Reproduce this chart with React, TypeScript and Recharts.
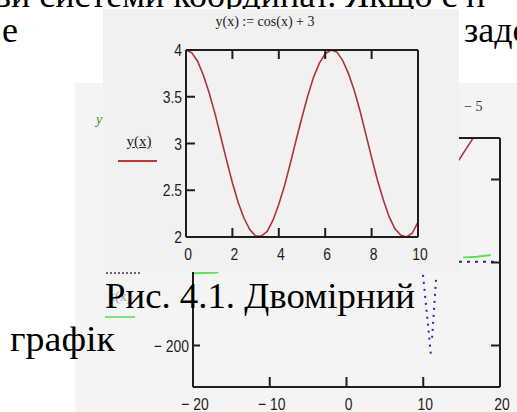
import React from 'react';
import { LineChart, Line, XAxis, YAxis } from 'recharts';

// ---- main chart: y(x) := cos(x) + 3 ----
const xValues = [0, 0.25, 0.5, 0.75, 1, 1.25, 1.5, 1.75, 2, 2.25, 2.5, 2.75, 3, 3.25, 3.5, 3.75, 4, 4.25, 4.5, 4.75, 5, 5.25, 5.5, 5.75, 6, 6.25, 6.5, 6.75, 7, 7.25, 7.5, 7.75, 8, 8.25, 8.5, 8.75, 9, 9.25, 9.5, 9.75, 10];
const yValues = [4.0, 3.97, 3.88, 3.73, 3.54, 3.32, 3.07, 2.82, 2.58, 2.37, 2.2, 2.08, 2.01, 2.01, 2.06, 2.18, 2.35, 2.55, 2.79, 3.04, 3.28, 3.51, 3.71, 3.86, 3.96, 4.0, 3.98, 3.89, 3.75, 3.57, 3.35, 3.1, 2.85, 2.61, 2.4, 2.22, 2.09, 2.02, 2.0, 2.04, 2.16];
const xTicks = [0, 2, 4, 6, 8, 10];
const yTicks = [2, 2.5, 3, 3.5, 4];
const mainTitle = 'y(x) := cos(x) + 3';
const legendLabel = 'y(x)';

// ---- background (partly hidden) chart ----
const bgXTicks = [-20, -10, 0, 10, 20];
const bgYTicks = [-200, -100, 0];
const bgTitleTail = '\u2212 5';
const bgLegendLabel = 'k(x)';
const bgRed = [{ x: 13, y: 0 }, { x: 16.5, y: 50 }];
const bgGreenA = [{ x: -20, y: -113 }, { x: -16.7, y: -112 }];
const bgGreenB = [{ x: 15.2, y: -94 }, { x: 17, y: -93 }, { x: 18.8, y: -91 }];
const bgBlueA = [{ x: 14.66, y: -99 }, { x: 20, y: -99 }];
const bgBlueB = [{ x: 9.97, y: -115 }, { x: 11.0, y: -211 }];
const bgBlueC = [{ x: 11.66, y: -121 }, { x: 11.14, y: -193 }];

// ---- document text ----
const docLine1 = 'ви системи координат. Якщо є н';
const docLine2a = 'е';
const docLine2b = 'задо';
const caption = 'Рис. 4.1. Двомірний';
const caption2 = 'графік';

const mainData = xValues.map((x, i) => ({ x, y: yValues[i] }));

const fmtPlain = (v: number) => `${v}`;
const fmtMinus = (v: number) => (v < 0 ? `\u2212 ${-v}` : `${v}`);

const INK = '#1e1e1e';
const tickFamily = '"Liberation Sans", Arial, sans-serif';
const serif = '"Liberation Serif", "DejaVu Serif", serif';
const frame = { stroke: INK, strokeWidth: 2 };

type Side = 'bottom' | 'top' | 'left' | 'right';

// Inward-pointing tick mark plus (optional) label, placed from the axis position Recharts passes in.
const makeTick =
  (side: Side, len: number, fmt: ((v: number) => string) | null, labelGap: number, dx = 0) =>
  (props: any) => {
    const { x, y, payload } = props;
    const v = payload.value as number;
    let line: [number, number, number, number];
    if (side === 'bottom') line = [x, y, x, y - len];
    else if (side === 'top') line = [x, y, x, y + len];
    else if (side === 'left') line = [x, y, x + len, y];
    else line = [x, y, x - len, y];
    let label: React.ReactNode = null;
    if (fmt) {
      if (side === 'bottom') {
        label = (
          <text
            transform={`translate(${x + dx},${y + labelGap}) scale(0.82,1)`}
            textAnchor="middle"
            fill={INK}
            fontSize={17}
            fontFamily={tickFamily}
          >
            {fmt(v)}
          </text>
        );
      } else if (side === 'left') {
        label = (
          <text
            transform={`translate(${x - labelGap},${y + 6}) scale(0.82,1)`}
            textAnchor="end"
            fill={INK}
            fontSize={17}
            fontFamily={tickFamily}
          >
            {fmt(v)}
          </text>
        );
      }
    }
    return (
      <g>
        <line x1={line[0]} y1={line[1]} x2={line[2]} y2={line[3]} stroke={INK} strokeWidth={2} />
        {label}
      </g>
    );
  };

const mainBottomTick = makeTick('bottom', 9, fmtPlain, 23, 2);
const mainTopTick = makeTick('top', 9, null, 0);
const mainLeftTick = makeTick('left', 9, fmtPlain, 4);
const mainRightTick = makeTick('right', 9, null, 0);
const bgBottomTick = makeTick('bottom', 10, fmtMinus, 23, 2);
const bgLeftTick = makeTick('left', 7, fmtMinus, 4);
const bgRightTick = makeTick('right', 9, null, 0);

const axisCommon = { tickSize: 0, tickMargin: 0, tickLine: false, interval: 0 as const, axisLine: frame };

export default function App() {
  return (
    <div
      style={{
        position: 'absolute',
        left: 0,
        top: 0,
        width: 517,
        height: 412,
        overflow: 'hidden',
        background: '#ffffff',
      }}
    >
      {/* document text behind the panels (top lines) */}
      <svg width={517} height={412} style={{ position: 'absolute', left: 0, top: 0 }}>
        <g fontFamily={serif} fontSize={36} fill="#000">
          <text x={-6} y={7}>{docLine1}</text>
          <text x={2} y={42}>{docLine2a}</text>
          <text x={464} y={42}>{docLine2b}</text>
        </g>
      </svg>

      {/* background panel */}
      <div style={{ position: 'absolute', left: 75, top: 83, width: 442, height: 329, background: '#f4f4f4' }} />

      {/* background chart */}
      <div style={{ position: 'absolute', left: 0, top: 0 }}>
        <LineChart width={517} height={412} margin={{ top: 137, right: 16, bottom: 0, left: 0 }}>
          <XAxis xAxisId="b" type="number" dataKey="x" domain={[-20, 20]} ticks={bgXTicks} height={25} tick={bgBottomTick} allowDataOverflow {...axisCommon} />
          <XAxis xAxisId="t" orientation="top" type="number" dataKey="x" domain={[-20, 20]} ticks={bgXTicks} height={1} tick={false} allowDataOverflow {...axisCommon} />
          <YAxis yAxisId="l" type="number" domain={[-250, 50]} ticks={bgYTicks} width={193} tick={bgLeftTick} allowDataOverflow {...axisCommon} />
          <YAxis yAxisId="r" orientation="right" type="number" domain={[-250, 50]} ticks={bgYTicks} width={1} tick={bgRightTick} allowDataOverflow {...axisCommon} />
          <Line xAxisId="b" yAxisId="l" data={bgRed} dataKey="y" stroke="#b83232" strokeWidth={1.5} dot={false} isAnimationActive={false} />
          <Line xAxisId="b" yAxisId="l" data={bgGreenA} dataKey="y" stroke="#5ee05e" strokeWidth={2} dot={false} isAnimationActive={false} />
          <Line xAxisId="b" yAxisId="l" data={bgGreenB} dataKey="y" stroke="#5ee05e" strokeWidth={2} dot={false} isAnimationActive={false} />
          <Line xAxisId="b" yAxisId="l" data={bgBlueA} dataKey="y" stroke="#26268a" strokeWidth={2} strokeDasharray="3 5" dot={false} isAnimationActive={false} />
          <Line xAxisId="b" yAxisId="l" data={bgBlueB} dataKey="y" stroke="#2a2ab0" strokeWidth={2} strokeDasharray="2 5" dot={false} isAnimationActive={false} />
          <Line xAxisId="b" yAxisId="l" data={bgBlueC} dataKey="y" stroke="#2a2ab0" strokeWidth={2} strokeDasharray="2 5" dot={false} isAnimationActive={false} />
        </LineChart>
      </div>

      {/* background chart bits: title fragment and legend fragments */}
      <div style={{ position: 'absolute', left: 464, top: 99, fontFamily: serif, fontSize: 14, color: '#333', whiteSpace: 'nowrap' }}>{bgTitleTail}</div>
      <div style={{ position: 'absolute', left: 96, top: 112, fontFamily: serif, fontSize: 14, color: '#4a8a3a', fontStyle: 'italic' }}>y</div>
      <div style={{ position: 'absolute', left: 106, top: 272, width: 34, borderTop: '2px dotted #667' }} />
      <div style={{ position: 'absolute', left: 108, top: 289, fontFamily: serif, fontSize: 14, color: '#a0a0a0' }}>{bgLegendLabel}</div>
      <div style={{ position: 'absolute', left: 105, top: 316, width: 30, borderTop: '2px solid #7fe07f' }} />

      {/* front panel with main chart */}
      <div style={{ position: 'absolute', left: 103, top: 9, width: 356, height: 263, background: '#f1f1f1' }}>
        <div
          style={{
            position: 'absolute',
            left: 84,
            top: 5,
            width: 156,
            textAlign: 'center',
            fontFamily: serif,
            fontSize: 14,
            color: '#222',
            whiteSpace: 'nowrap',
          }}
        >
          {mainTitle}
        </div>
        <div
          style={{
            position: 'absolute',
            left: 17,
            top: 124,
            width: 38,
            textAlign: 'center',
            fontFamily: serif,
            fontSize: 15,
            color: '#222',
            textDecoration: 'underline',
          }}
        >
          {legendLabel}
        </div>
        <div style={{ position: 'absolute', left: 15, top: 151, width: 39, borderTop: '2px solid #b83838' }} />
        <div style={{ position: 'absolute', left: 0, top: 0 }}>
          <LineChart width={356} height={263} data={mainData} margin={{ top: 40, right: 40, bottom: 0, left: 0 }}>
            <XAxis xAxisId="b" type="number" dataKey="x" domain={[0, 10]} ticks={xTicks} height={35} tick={mainBottomTick} {...axisCommon} />
            <XAxis xAxisId="t" orientation="top" type="number" dataKey="x" domain={[0, 10]} ticks={xTicks} height={1} tick={mainTopTick} {...axisCommon} />
            <YAxis yAxisId="l" type="number" domain={[2, 4]} ticks={yTicks} width={83} tick={mainLeftTick} {...axisCommon} />
            <YAxis yAxisId="r" orientation="right" type="number" domain={[2, 4]} ticks={yTicks} width={1} tick={mainRightTick} {...axisCommon} />
            <Line
              xAxisId="b"
              yAxisId="l"
              type="linear"
              dataKey="y"
              stroke="#b03434"
              strokeWidth={1.6}
              dot={false}
              isAnimationActive={false}
            />
          </LineChart>
        </div>
      </div>

      {/* caption text drawn over the charts */}
      <svg width={517} height={412} style={{ position: 'absolute', left: 0, top: 0 }}>
        <g fontFamily={serif} fontSize={36} fill="#000">
          <text x={105} y={308} textLength={310} lengthAdjust="spacingAndGlyphs">{caption}</text>
          <text x={10} y={351} textLength={105} lengthAdjust="spacingAndGlyphs">{caption2}</text>
        </g>
      </svg>
    </div>
  );
}
